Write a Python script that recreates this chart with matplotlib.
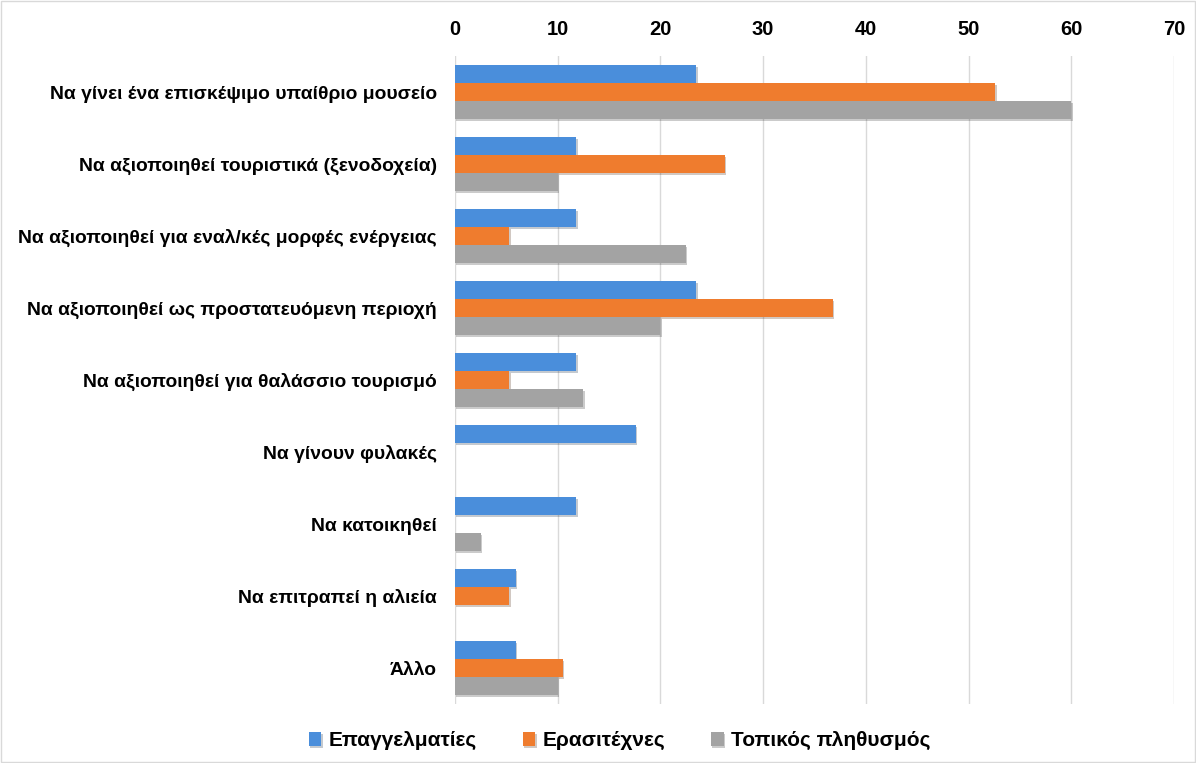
import numpy as np
import matplotlib
matplotlib.use("Agg")
import matplotlib.pyplot as plt
import matplotlib.patheffects as pe

plt.rcParams['font.family'] = ['Liberation Sans', 'DejaVu Sans']

categories = [
    "Να γίνει ένα επισκέψιμο υπαίθριο μουσείο",
    "Να αξιοποιηθεί τουριστικά (ξενοδοχεία)",
    "Να αξιοποιηθεί για εναλ/κές μορφές ενέργειας",
    "Να αξιοποιηθεί ως προστατευόμενη περιοχή",
    "Να αξιοποιηθεί για θαλάσσιο τουρισμό",
    "Να γίνουν φυλακές",
    "Να κατοικηθεί",
    "Να επιτραπεί η αλιεία",
    "Άλλο",
]
professionals = [23.5, 11.8, 11.8, 23.5, 11.8, 17.6, 11.8, 5.9, 5.9]
amateurs = [52.6, 26.3, 5.3, 36.8, 5.3, 0, 0, 5.3, 10.5]
locals_ = [60.0, 10.0, 22.5, 20.0, 12.5, 0, 2.5, 0, 10.0]
series_names = ["Επαγγελματίες", "Ερασιτέχνες", "Τοπικός πληθυσμός"]
colors = ["#4a8edb", "#ef7c2e", "#a3a3a3"]

fig = plt.figure(figsize=(11.96, 7.63), dpi=100)
ax = fig.add_axes([0.3804, 0.0773, 0.6012, 0.8493])

y = np.arange(len(categories))
h = 0.25
shadow = [pe.SimplePatchShadow(offset=(1, -1.5), alpha=0.25), pe.Normal()]
for i, (vals, name, col) in enumerate(zip([professionals, amateurs, locals_], series_names, colors)):
    bars = ax.barh(y - h + i * h, vals, height=h, color=col, label=name, zorder=3)
    for b in bars:
        b.set_path_effects(shadow)

ax.set_ylim(len(categories) - 0.5, -0.5)
ax.set_xlim(0, 70)
ax.set_xticks(range(0, 71, 10))
ax.xaxis.tick_top()
ax.tick_params(axis='x', length=0, pad=12, labelsize=14.5)
ax.tick_params(axis='y', length=0, pad=13, labelsize=13.9)
ax.set_yticks(y)
ax.set_yticklabels(categories, fontweight='bold')
for lab in ax.get_xticklabels():
    lab.set_fontweight('bold')
ax.grid(axis='x', color='#d9d9d9', linewidth=1, zorder=0)
for s in ax.spines.values():
    s.set_visible(False)

fig.legend(loc='lower center', bbox_to_anchor=(0.518, -0.008), ncol=3, frameon=False,
           prop={'weight': 'bold', 'size': 15}, handlelength=0.6, handleheight=0.6,
           columnspacing=2.2, handletextpad=0.35)

fig.patches.append(plt.Rectangle((0.001, 0.001), 0.998, 0.998, transform=fig.transFigure,
                                 fill=False, edgecolor='#d9d9d9', linewidth=1))
fig.savefig("out.png", dpi=100)
